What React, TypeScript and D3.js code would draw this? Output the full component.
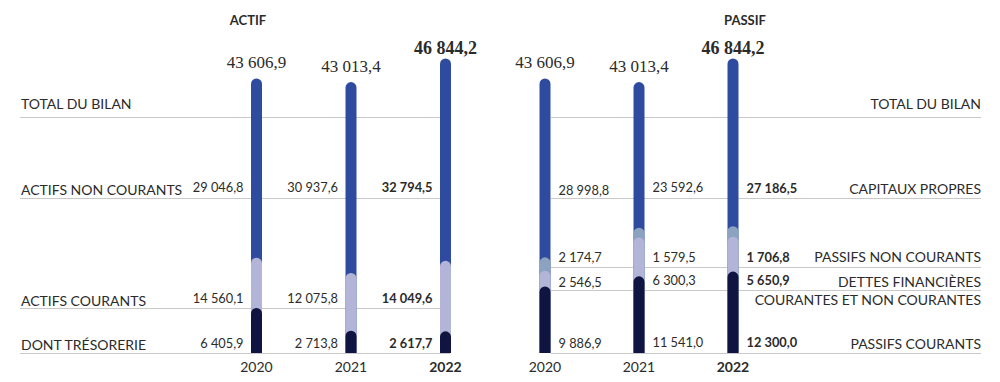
import React from 'react';
import * as d3 from 'd3';

// ---- Data ----
const years = ['2020', '2021', '2022'];
const totalBilan = [43606.9, 43013.4, 46844.2];
const actifsNonCourants = [29046.8, 30937.6, 32794.5];
const actifsCourants = [14560.1, 12075.8, 14049.6];
const tresorerie = [6405.9, 2713.8, 2617.7];
const capitauxPropres = [28998.8, 23592.6, 27186.5];
const passifsNonCourants = [2174.7, 1579.5, 1706.8];
const dettesFinancieres = [2546.5, 6300.3, 5650.9];
const passifsCourants = [9886.9, 11541.0, 12300.0];

// ---- Style ----
const C_BLUE = '#2f4b9f';
const C_LIGHT = '#b2b5d7';
const C_DARK = '#0f1440';
const C_GREY = '#8ba3c0';
const C_TEXT = '#2b2b2b';
const C_LINE = '#c9c9c9';
const SANS = 'Lato, "Noto Sans", sans-serif';
const SERIF = '"Liberation Serif", "DejaVu Serif", serif';

const W = 1000;
const H = 382;
const BASE = 353;
const BAR_W = 11;
const R = BAR_W / 2;

const fr = d3.formatLocale({ decimal: ',', thousands: ' ', grouping: [3], currency: ['', ''] });
const fmt = fr.format(',.1f');

const y = d3.scaleLinear().domain([0, 50000]).range([BASE, BASE - 308.5]);
const xLeft = d3.scalePoint<string>().domain(years).range([256.5, 445.5]);
const xRight = d3.scalePoint<string>().domain(years).range([545, 733]);

function barPath(cx: number, v: number) {
  const top = y(v);
  const x0 = cx - R;
  const x1 = cx + R;
  return `M${x0},${BASE} L${x0},${top} A${R},${R} 0 0 1 ${x1},${top} L${x1},${BASE} Z`;
}

export default function App() {
  const isBold = (i: number) => i === years.length - 1;

  const leftSegs = years.map((yr, i) => [
    { v: totalBilan[i], c: C_BLUE },
    { v: actifsCourants[i], c: C_LIGHT },
    { v: tresorerie[i], c: C_DARK },
  ]);
  const rightSegs = years.map((yr, i) => {
    const a = passifsCourants[i];
    const b = a + dettesFinancieres[i];
    const c = b + passifsNonCourants[i];
    return [
      { v: c + capitauxPropres[i], c: C_BLUE },
      { v: c, c: C_GREY },
      { v: b, c: C_LIGHT },
      { v: a, c: C_DARK },
    ];
  });

  const leftRows = [
    { label: 'TOTAL DU BILAN', ly: 109, line: 117, values: null as number[] | null, vy: [0, 0, 0] },
    { label: 'ACTIFS NON COURANTS', ly: 195, line: 198, values: actifsNonCourants, vy: [192, 192, 192] },
    { label: 'ACTIFS COURANTS', ly: 306, line: 308, values: actifsCourants, vy: [303, 303, 303] },
    { label: 'DONT TRÉSORERIE', ly: 350, line: 353, values: tresorerie, vy: [348, 348, 348] },
  ];
  const rightRows = [
    { label: ['TOTAL DU BILAN'], ly: 109, line: 117, values: null as number[] | null, vy: [0, 0, 0] },
    { label: ['CAPITAUX PROPRES'], ly: 194, line: 198, values: capitauxPropres, vy: [195, 192, 193] },
    { label: ['PASSIFS NON COURANTS'], ly: 262, line: 267, values: passifsNonCourants, vy: [262, 262, 262] },
    { label: ['DETTES FINANCIÈRES', 'COURANTES ET NON COURANTES'], ly: 287, line: 290, values: dettesFinancieres, vy: [287, 285, 285] },
    { label: ['PASSIFS COURANTS'], ly: 349, line: 353, values: passifsCourants, vy: [348, 347, 347] },
  ];

  const totalY = (i: number) => y(totalBilan[i]) - R - (isBold(i) ? 4 : 10);

  return (
    <svg width={W} height={H} style={{ position: 'absolute', left: 0, top: 0, background: '#fff' }}>
      <text x={248} y={25} textAnchor="middle" fontFamily={SANS} fontWeight="bold" fontSize={13} fill={C_TEXT}>ACTIF</text>
      <text x={745} y={25} textAnchor="middle" fontFamily={SANS} fontWeight="bold" fontSize={13} fill={C_TEXT}>PASSIF</text>

      {leftRows.map((r) => (
        <line key={'ll' + r.label} x1={20} x2={450} y1={r.line + 0.5} y2={r.line + 0.5} stroke={C_LINE} strokeWidth={1} />
      ))}
      {rightRows.map((r) => (
        <line key={'rl' + r.label[0]} x1={551} x2={981} y1={r.line + 0.5} y2={r.line + 0.5} stroke={C_LINE} strokeWidth={1} />
      ))}

      {years.map((yr, i) => (
        <g key={'lb' + yr}>
          {leftSegs[i].map((s, k) => (
            <path key={k} d={barPath(xLeft(yr)!, s.v)} fill={s.c} />
          ))}
        </g>
      ))}
      {years.map((yr, i) => (
        <g key={'rb' + yr}>
          {rightSegs[i].map((s, k) => (
            <path key={k} d={barPath(xRight(yr)!, s.v)} fill={s.c} />
          ))}
        </g>
      ))}

      {years.map((yr, i) => (
        <React.Fragment key={'tot' + yr}>
          <text x={xLeft(yr)!} y={totalY(i)} textAnchor="middle" fontFamily={SERIF}
            fontWeight={isBold(i) ? 'bold' : 'normal'} fontSize={isBold(i) ? 18 : 17} fill={C_TEXT}>{fmt(totalBilan[i])}</text>
          <text x={xRight(yr)!} y={totalY(i)} textAnchor="middle" fontFamily={SERIF}
            fontWeight={isBold(i) ? 'bold' : 'normal'} fontSize={isBold(i) ? 18 : 17} fill={C_TEXT}>{fmt(totalBilan[i])}</text>
        </React.Fragment>
      ))}

      {leftRows.map((r) => (
        <g key={'lt' + r.label}>
          <text x={21} y={r.ly} fontFamily={SANS} fontSize={14} fill={C_TEXT}>{r.label}</text>
          {r.values && years.map((yr, i) => (
            <text key={yr} x={xLeft(yr)! - 13} y={r.vy[i]} textAnchor="end" fontFamily={SANS} fontSize={12.8}
              fontWeight={isBold(i) ? 'bold' : 'normal'} fill={C_TEXT}>{fmt(r.values![i])}</text>
          ))}
        </g>
      ))}

      {rightRows.map((r) => (
        <g key={'rt' + r.label[0]}>
          {r.label.map((t, j) => (
            <text key={t} x={981} y={r.ly + j * 18} textAnchor="end" fontFamily={SANS} fontSize={14} fill={C_TEXT}>{t}</text>
          ))}
          {r.values && years.map((yr, i) => (
            <text key={yr} x={xRight(yr)! + 13.5} y={r.vy[i]} textAnchor="start" fontFamily={SANS} fontSize={12.8}
              fontWeight={isBold(i) ? 'bold' : 'normal'} fill={C_TEXT}>{fmt(r.values![i])}</text>
          ))}
        </g>
      ))}

      {years.map((yr, i) => (
        <React.Fragment key={'yr' + yr}>
          <text x={xLeft(yr)!} y={372} textAnchor="middle" fontFamily={SANS} fontSize={14}
            fontWeight={isBold(i) ? 'bold' : 'normal'} fill={C_TEXT}>{yr}</text>
          <text x={xRight(yr)!} y={372} textAnchor="middle" fontFamily={SANS} fontSize={14}
            fontWeight={isBold(i) ? 'bold' : 'normal'} fill={C_TEXT}>{yr}</text>
        </React.Fragment>
      ))}
    </svg>
  );
}
